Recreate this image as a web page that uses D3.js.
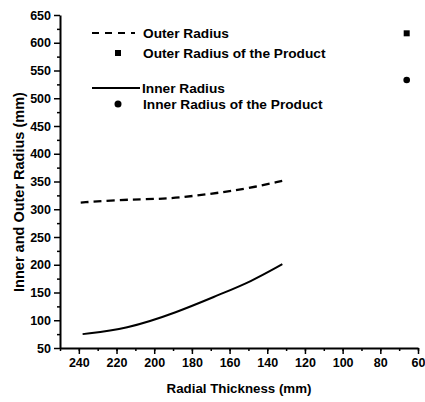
<!DOCTYPE html>
<html>
<head>
<meta charset="utf-8">
<script src="https://cdn.jsdelivr.net/npm/d3@7"></script>
<style>
  body { margin: 0; background: #fff; }
  svg { display: block; font-family: "Liberation Sans", Arial, sans-serif; font-weight: bold; }
</style>
</head>
<body>
<div id="chart"></div>
<script>
// radial thickness (mm) vs radius (mm)
const outerThickness = [239, 223, 207, 193, 179, 165, 151, 132];
const outerRadius = [312, 316, 318, 319, 324, 330, 337, 351];
const innerThickness = [238, 215, 188, 165, 149, 132];
const innerRadius = [75, 84, 114, 147, 169, 201];
const productThickness = [66];
const productOuter = [617];
const productInner = [533];
const xTicks = [240, 220, 200, 180, 160, 140, 120, 100, 80, 60];
const yTicks = [50, 100, 150, 200, 250, 300, 350, 400, 450, 500, 550, 600, 650];

const width = 425, height = 402;
const svg = d3.select("#chart").append("svg")
  .attr("width", width).attr("height", height);

const x = d3.scaleLinear().domain([250, 60]).range([60, 418]);
const y = d3.scaleLinear().domain([50, 650]).range([348, 15]);

// minor ticks
svg.append("g")
  .attr("transform", `translate(0,${y(50)})`)
  .call(d3.axisBottom(x).tickValues(d3.range(250, 59, -10)).tickSize(3).tickFormat(""))
  .call(g => g.select(".domain").remove());
svg.append("g")
  .attr("transform", `translate(${x(250)},0)`)
  .call(d3.axisLeft(y).tickValues(d3.range(75, 650, 50)).tickSize(3).tickFormat(""))
  .call(g => g.select(".domain").remove());

const xAxis = svg.append("g")
  .attr("transform", `translate(0,${y(50)})`)
  .call(d3.axisBottom(x).tickValues(xTicks).tickSize(6).tickPadding(4).tickSizeOuter(0));
xAxis.selectAll("text").attr("font-size", 12.5).attr("fill", "#000");

const yAxis = svg.append("g")
  .attr("transform", `translate(${x(250)},0)`)
  .call(d3.axisLeft(y).tickValues(yTicks).tickSize(6).tickPadding(3).tickSizeOuter(0));
yAxis.selectAll("text").attr("font-size", 12.5).attr("fill", "#000");

svg.selectAll(".domain").attr("stroke-width", 2);
svg.selectAll(".tick line").attr("stroke-width", 1.5);
svg.selectAll("g text").attr("font-family", null);

svg.append("text")
  .attr("x", 239).attr("y", 393)
  .attr("text-anchor", "middle").attr("font-size", 13.3)
  .text("Radial Thickness (mm)");
svg.append("text")
  .attr("transform", "translate(24,192) rotate(-90)")
  .attr("text-anchor", "middle").attr("font-size", 14.5)
  .text("Inner and Outer Radius (mm)");

const line = d3.line().curve(d3.curveBasis);

svg.append("path")
  .attr("d", line(outerThickness.map((t, i) => [x(t), y(outerRadius[i])])))
  .attr("fill", "none").attr("stroke", "#000")
  .attr("stroke-width", 2.3).attr("stroke-dasharray", "8,5");

svg.append("path")
  .attr("d", line(innerThickness.map((t, i) => [x(t), y(innerRadius[i])])))
  .attr("fill", "none").attr("stroke", "#000").attr("stroke-width", 2);

svg.selectAll(".sq").data(productThickness).enter().append("rect")
  .attr("x", (d) => x(d) - 3).attr("y", (d, i) => y(productOuter[i]) - 3)
  .attr("width", 6).attr("height", 6).attr("fill", "#000");
svg.selectAll(".ci").data(productThickness).enter().append("circle")
  .attr("cx", (d) => x(d)).attr("cy", (d, i) => y(productInner[i]))
  .attr("r", 3.3).attr("fill", "#000");

// legend
const lg = svg.append("g").attr("font-size", 13.7);
lg.append("line").attr("x1", 92).attr("x2", 135).attr("y1", 33).attr("y2", 33)
  .attr("stroke", "#000").attr("stroke-width", 2).attr("stroke-dasharray", "7,6");
lg.append("text").attr("x", 143).attr("y", 38).text("Outer Radius");
lg.append("rect").attr("x", 115).attr("y", 50).attr("width", 6).attr("height", 6);
lg.append("text").attr("x", 143).attr("y", 58).text("Outer Radius of the Product");
lg.append("line").attr("x1", 92).attr("x2", 140).attr("y1", 88).attr("y2", 88)
  .attr("stroke", "#000").attr("stroke-width", 2);
lg.append("text").attr("x", 142).attr("y", 93).text("Inner Radius");
lg.append("circle").attr("cx", 118).attr("cy", 104).attr("r", 3.5);
lg.append("text").attr("x", 143).attr("y", 109).text("Inner Radius of the Product");
</script>
</body>
</html>
